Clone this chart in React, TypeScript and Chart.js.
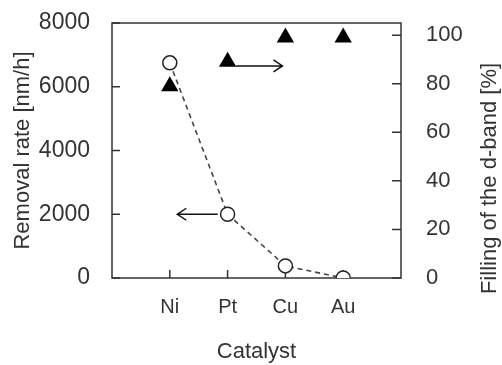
import React, { useEffect, useRef } from "react";
import { Chart, registerables } from "chart.js";

Chart.register(...registerables);

const categories = ["Ni", "Pt", "Cu", "Au"];
const removalRate = [6750, 2000, 380, 0];
const dBandFilling = [79, 89, 99, 99];
const leftTicks = [0, 2000, 4000, 6000, 8000];
const rightTicks = [0, 20, 40, 60, 80, 100];
const xTitle = "Catalyst";
const leftTitle = "Removal rate [nm/h]";
const rightTitle = "Filling of the d-band [%]";
const arrowLeft = { from: 1.83, to: 1.13, y: 2000, axis: "y" };
const arrowRight = { from: 2.14, to: 2.95, y: 87.3, axis: "y1" };

const FONT = "'Liberation Sans', Arial, sans-serif";
const INK = "#333333";

const zeroPad = (s: any) => {
  s.paddingTop = 0;
  s.paddingBottom = 0;
  s.paddingLeft = 0;
  s.paddingRight = 0;
};

const framePlugin = {
  id: "frameAndTicks",
  beforeDatasetsDraw(chart: any) {
    const { ctx, chartArea } = chart;
    const { left, right, top, bottom } = chartArea;
    const xs = chart.scales.x;
    const ys = chart.scales.y;
    const y1 = chart.scales.y1;
    ctx.save();
    ctx.strokeStyle = INK;
    ctx.lineWidth = 1.5;
    ctx.beginPath();
    categories.forEach((_, i) => {
      const px = xs.getPixelForValue(i + 1);
      ctx.moveTo(px, bottom);
      ctx.lineTo(px, bottom - 8);
    });
    leftTicks.forEach((v) => {
      const py = ys.getPixelForValue(v);
      ctx.moveTo(left, py);
      ctx.lineTo(left + 8, py);
    });
    rightTicks.forEach((v) => {
      const py = y1.getPixelForValue(v);
      ctx.moveTo(right, py);
      ctx.lineTo(right - 9, py);
    });
    ctx.stroke();
    ctx.strokeRect(left, top, right - left, bottom - top);
    ctx.restore();
  },
  afterDatasetsDraw(chart: any) {
    const { ctx, chartArea } = chart;
    const xs = chart.scales.x;
    ctx.save();
    ctx.strokeStyle = "#111111";
    ctx.lineWidth = 1.5;
    [arrowLeft, arrowRight].forEach((a) => {
      const sc = chart.scales[a.axis];
      const x0 = xs.getPixelForValue(a.from);
      const x1 = xs.getPixelForValue(a.to);
      const py = sc.getPixelForValue(a.y);
      const dir = Math.sign(x1 - x0);
      ctx.beginPath();
      ctx.moveTo(x0, py);
      ctx.lineTo(x1, py);
      ctx.moveTo(x1 - dir * 9, py - 6);
      ctx.lineTo(x1, py);
      ctx.lineTo(x1 - dir * 9, py + 6);
      ctx.stroke();
    });
    ctx.fillStyle = INK;
    ctx.font = `22px ${FONT}`;
    ctx.textAlign = "center";
    ctx.textBaseline = "middle";
    ctx.translate(chartArea.right + 89, (chartArea.top + chartArea.bottom) / 2 + 28);
    ctx.rotate(-Math.PI / 2);
    ctx.fillText(rightTitle, 0, 0);
    ctx.restore();
  },
};

export default function App() {
  const ref = useRef<HTMLCanvasElement | null>(null);
  useEffect(() => {
    if (!ref.current) return;
    const chart = new Chart(ref.current, {
      type: "scatter",
      data: {
        datasets: [
          {
            label: "Removal rate",
            data: removalRate.map((v, i) => ({ x: i + 1, y: v })),
            yAxisID: "y",
            showLine: true,
            borderColor: "#444444",
            borderWidth: 1.6,
            borderDash: [5, 4],
            pointStyle: "circle",
            pointRadius: 7,
            pointBorderWidth: 1.5,
            pointBackgroundColor: "#ffffff",
            pointBorderColor: "#222222",
            order: 2,
          },
          {
            label: "Filling of the d-band",
            data: dBandFilling.map((v, i) => ({ x: i + 1, y: v })),
            yAxisID: "y1",
            showLine: false,
            pointStyle: "triangle",
            pointRadius: 10,
            pointBorderWidth: 0,
            pointBackgroundColor: "#000000",
            pointBorderColor: "#000000",
            order: 1,
          },
        ],
      },
      options: {
        animation: false,
        responsive: false,
        maintainAspectRatio: false,
        layout: { padding: { top: 23, left: 0, right: 0, bottom: 0 } },
        plugins: { legend: { display: false }, tooltip: { enabled: false } },
        scales: {
          x: {
            type: "linear",
            position: "bottom",
            min: 0,
            max: 5,
            afterBuildTicks: (s: any) => {
              s.ticks = categories.map((_, i) => ({ value: i + 1 }));
            },
            afterFit: (s: any) => {
              s.height = 87;
              zeroPad(s);
            },
            grid: { display: false, drawTicks: false },
            border: { display: false },
            ticks: {
              padding: 17,
              color: INK,
              font: { family: FONT, size: 20 },
              callback: (v: any) => categories[Number(v) - 1] ?? "",
              maxRotation: 0,
            },
            title: {
              display: true,
              text: xTitle,
              color: INK,
              font: { family: FONT, size: 22 },
              padding: { top: 0, bottom: 0 },
            },
          },
          y: {
            type: "linear",
            position: "left",
            min: 0,
            max: 8000,
            afterBuildTicks: (s: any) => {
              s.ticks = leftTicks.map((v) => ({ value: v }));
            },
            afterFit: (s: any) => {
              s.width = 112;
              zeroPad(s);
            },
            grid: { display: false, drawTicks: false },
            border: { display: false },
            ticks: {
              padding: 22,
              color: INK,
              font: { family: FONT, size: 23 },
              callback: (v: any) => String(v),
            },
            title: {
              display: true,
              text: leftTitle,
              color: INK,
              font: { family: FONT, size: 22 },
              padding: { top: 10, bottom: 0 },
            },
          },
          y1: {
            type: "linear",
            position: "right",
            min: 0,
            max: 105,
            afterBuildTicks: (s: any) => {
              s.ticks = rightTicks.map((v) => ({ value: v }));
            },
            afterFit: (s: any) => {
              s.width = 101;
              zeroPad(s);
            },
            grid: { display: false, drawTicks: false },
            border: { display: false },
            ticks: {
              padding: 25,
              color: INK,
              font: { family: FONT, size: 22 },
              callback: (v: any) => String(v),
            },
          },
        },
      },
      plugins: [framePlugin],
    });
    return () => chart.destroy();
  }, []);
  return (
    <div style={{ position: "fixed", left: 0, top: 0, width: 502, height: 365, background: "#fff" }}>
      <canvas ref={ref} width={502} height={365} style={{ width: 502, height: 365, display: "block" }} />
    </div>
  );
}
